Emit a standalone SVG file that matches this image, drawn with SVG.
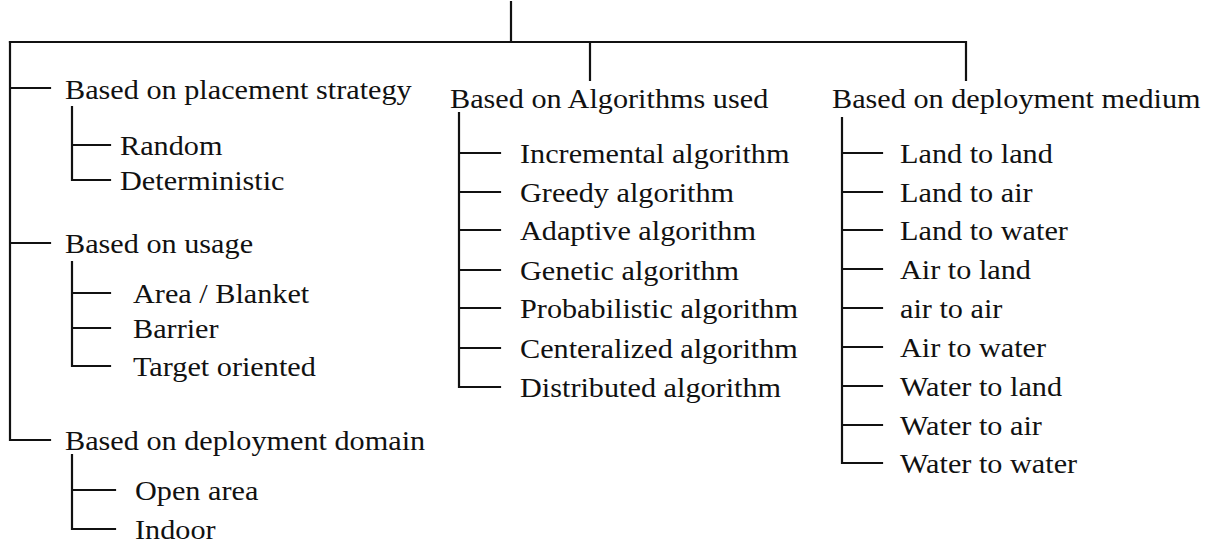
<svg xmlns="http://www.w3.org/2000/svg" width="1213" height="546" viewBox="0 0 1213 546">
<style>
.c{stroke:#111;stroke-width:2.2;fill:none;stroke-linecap:square}
text{font-family:"Liberation Serif","Times New Roman",serif;font-size:27px;fill:#111}
</style>
<rect width="1213" height="546" fill="#fff"/>
<g id="connectors" class="c">
<path d="M511,2V42M10,42H966M590,42V80M966,42V80"/>
<path d="M10,42V440H50M10,88H50M10,243H50"/>
<path d="M72,107V180H110M72,145H110"/>
<path d="M72,262V366H110M72,293H110M72,328H110"/>
<path d="M72,455V529H115M72,490H115"/>
<path d="M459,113V387H500M459,153H500M459,192H500M459,230H500M459,270H500M459,308H500M459,348H500"/>
<path d="M842,118V463H882M842,153H882M842,192H882M842,230H882M842,269H882M842,308H882M842,347H882M842,386H882M842,425H882"/>
</g>
<g id="n-placement"><text transform="translate(65,99) scale(1.12,1)">Based on placement strategy</text></g>
<g id="n-random"><text transform="translate(120,155) scale(1.12,1)">Random</text></g>
<g id="n-deterministic"><text transform="translate(120,190) scale(1.12,1)">Deterministic</text></g>
<g id="n-usage"><text transform="translate(65,253) scale(1.12,1)">Based on usage</text></g>
<g id="n-area"><text transform="translate(133,303) scale(1.12,1)">Area / Blanket</text></g>
<g id="n-barrier"><text transform="translate(133,338) scale(1.12,1)">Barrier</text></g>
<g id="n-target"><text transform="translate(133,376) scale(1.12,1)">Target oriented</text></g>
<g id="n-domain"><text transform="translate(65,450) scale(1.12,1)">Based on deployment domain</text></g>
<g id="n-open"><text transform="translate(135,500) scale(1.12,1)">Open area</text></g>
<g id="n-indoor"><text transform="translate(135,539) scale(1.12,1)">Indoor</text></g>
<g id="n-algorithms"><text transform="translate(450,108) scale(1.12,1)">Based on Algorithms used</text></g>
<g id="n-incremental"><text transform="translate(520,163) scale(1.12,1)">Incremental algorithm</text></g>
<g id="n-greedy"><text transform="translate(520,202) scale(1.12,1)">Greedy algorithm</text></g>
<g id="n-adaptive"><text transform="translate(520,240) scale(1.12,1)">Adaptive algorithm</text></g>
<g id="n-genetic"><text transform="translate(520,280) scale(1.12,1)">Genetic algorithm</text></g>
<g id="n-probabilistic"><text transform="translate(520,318) scale(1.12,1)">Probabilistic algorithm</text></g>
<g id="n-centeralized"><text transform="translate(520,358) scale(1.12,1)">Centeralized algorithm</text></g>
<g id="n-distributed"><text transform="translate(520,397) scale(1.12,1)">Distributed algorithm</text></g>
<g id="n-medium"><text transform="translate(832,108) scale(1.12,1)">Based on deployment medium</text></g>
<g id="n-l2l"><text transform="translate(900,163) scale(1.12,1)">Land to land</text></g>
<g id="n-l2a"><text transform="translate(900,202) scale(1.12,1)">Land to air</text></g>
<g id="n-l2w"><text transform="translate(900,240) scale(1.12,1)">Land to water</text></g>
<g id="n-a2l"><text transform="translate(900,279) scale(1.12,1)">Air to land</text></g>
<g id="n-a2a"><text transform="translate(900,318) scale(1.12,1)">air to air</text></g>
<g id="n-a2w"><text transform="translate(900,357) scale(1.12,1)">Air to water</text></g>
<g id="n-w2l"><text transform="translate(900,396) scale(1.12,1)">Water to land</text></g>
<g id="n-w2a"><text transform="translate(900,435) scale(1.12,1)">Water to air</text></g>
<g id="n-w2w"><text transform="translate(900,473) scale(1.12,1)">Water to water</text></g>
</svg>
